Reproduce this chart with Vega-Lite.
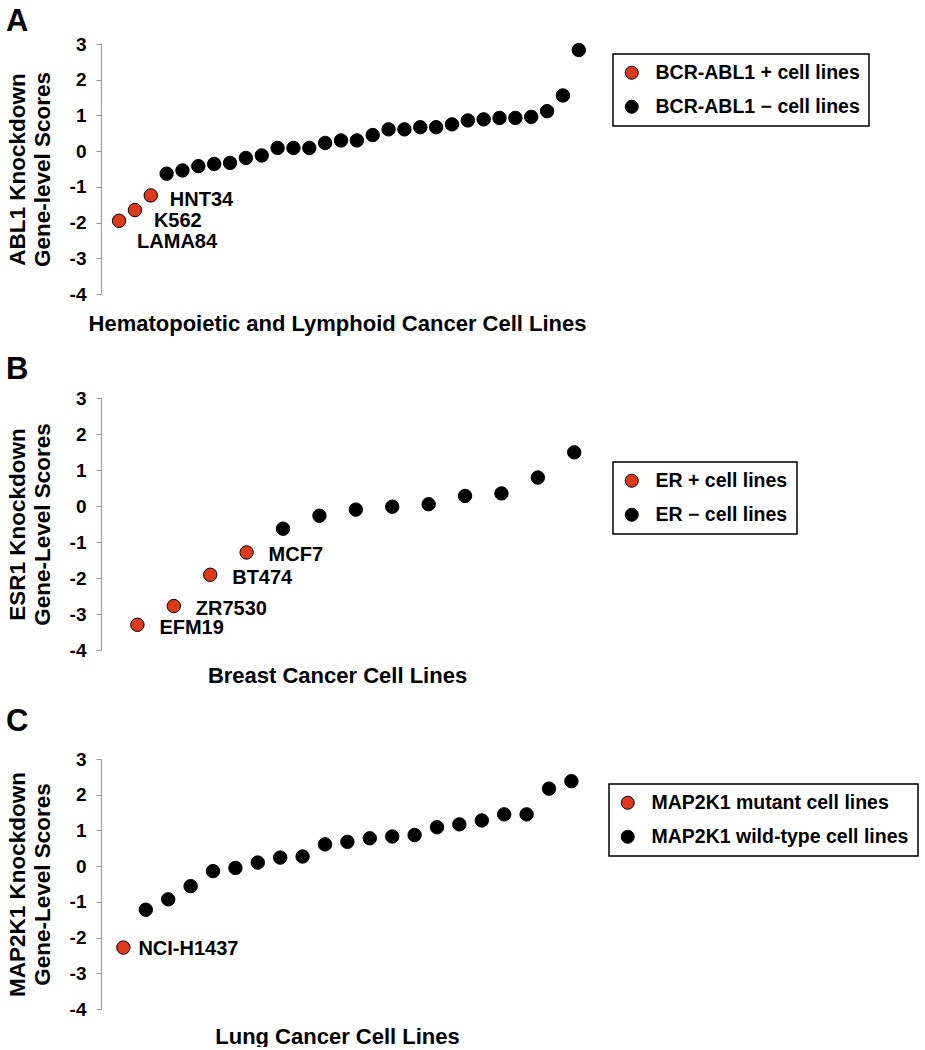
{
  "$schema": "https://vega.github.io/schema/vega-lite/v6.json",
  "background": "white",
  "padding": {"left": 6, "top": 6, "right": 0, "bottom": 0},
  "spacing": 20,
  "resolve": {"scale": {"color": "independent"}, "legend": {"color": "independent"}},
  "config": {
    "font": "Liberation Sans",
    "view": {"stroke": null},
    "axis": {"grid": false, "labelFont": "Liberation Sans", "labelFontWeight": "bold", "labelFontSize": 19, "labelColor": "black", "titleFont": "Liberation Sans", "titleFontWeight": "bold", "titleColor": "black"},
    "axisY": {"domainColor": "#999999", "tickColor": "#999999", "tickSize": 5, "labelPadding": 10, "titleFontSize": 22.5, "titleLineHeight": 25, "titlePadding": 15, "values": [-4, -3, -2, -1, 0, 1, 2, 3], "labelExpr": "'' + datum.value"},
    "axisX": {"domain": false, "ticks": false, "labels": false, "titleFontSize": 22, "titleX": 236},
    "legend": {"orient": "none", "title": null, "strokeColor": "black", "strokeWidth": 1.5, "fillColor": "white", "padding": 9, "labelFont": "Liberation Sans", "labelFontSize": 19.5, "labelFontWeight": "bold", "labelColor": "black", "labelLimit": 400, "symbolType": "circle", "symbolSize": 170, "symbolStrokeColor": "black", "symbolStrokeWidth": 1, "rowPadding": 13, "labelOffset": 14},
    "title": {"anchor": "start", "frame": "bounds", "fontSize": 31, "fontWeight": "bold", "font": "Liberation Sans", "color": "black", "dx": 0}
  },
  "datasets": {
    "abl1": [
      {"i": 1, "score": -1.95, "group": "BCR-ABL1 + cell lines", "label": "LAMA84"},
      {"i": 2, "score": -1.65, "group": "BCR-ABL1 + cell lines", "label": "K562"},
      {"i": 3, "score": -1.24, "group": "BCR-ABL1 + cell lines", "label": "HNT34"},
      {"i": 4, "score": -0.63, "group": "BCR-ABL1 − cell lines", "label": ""},
      {"i": 5, "score": -0.54, "group": "BCR-ABL1 − cell lines", "label": ""},
      {"i": 6, "score": -0.42, "group": "BCR-ABL1 − cell lines", "label": ""},
      {"i": 7, "score": -0.36, "group": "BCR-ABL1 − cell lines", "label": ""},
      {"i": 8, "score": -0.33, "group": "BCR-ABL1 − cell lines", "label": ""},
      {"i": 9, "score": -0.19, "group": "BCR-ABL1 − cell lines", "label": ""},
      {"i": 10, "score": -0.12, "group": "BCR-ABL1 − cell lines", "label": ""},
      {"i": 11, "score": 0.09, "group": "BCR-ABL1 − cell lines", "label": ""},
      {"i": 12, "score": 0.09, "group": "BCR-ABL1 − cell lines", "label": ""},
      {"i": 13, "score": 0.09, "group": "BCR-ABL1 − cell lines", "label": ""},
      {"i": 14, "score": 0.23, "group": "BCR-ABL1 − cell lines", "label": ""},
      {"i": 15, "score": 0.30, "group": "BCR-ABL1 − cell lines", "label": ""},
      {"i": 16, "score": 0.30, "group": "BCR-ABL1 − cell lines", "label": ""},
      {"i": 17, "score": 0.45, "group": "BCR-ABL1 − cell lines", "label": ""},
      {"i": 18, "score": 0.61, "group": "BCR-ABL1 − cell lines", "label": ""},
      {"i": 19, "score": 0.61, "group": "BCR-ABL1 − cell lines", "label": ""},
      {"i": 20, "score": 0.67, "group": "BCR-ABL1 − cell lines", "label": ""},
      {"i": 21, "score": 0.67, "group": "BCR-ABL1 − cell lines", "label": ""},
      {"i": 22, "score": 0.75, "group": "BCR-ABL1 − cell lines", "label": ""},
      {"i": 23, "score": 0.86, "group": "BCR-ABL1 − cell lines", "label": ""},
      {"i": 24, "score": 0.89, "group": "BCR-ABL1 − cell lines", "label": ""},
      {"i": 25, "score": 0.93, "group": "BCR-ABL1 − cell lines", "label": ""},
      {"i": 26, "score": 0.93, "group": "BCR-ABL1 − cell lines", "label": ""},
      {"i": 27, "score": 0.96, "group": "BCR-ABL1 − cell lines", "label": ""},
      {"i": 28, "score": 1.12, "group": "BCR-ABL1 − cell lines", "label": ""},
      {"i": 29, "score": 1.56, "group": "BCR-ABL1 − cell lines", "label": ""},
      {"i": 30, "score": 2.83, "group": "BCR-ABL1 − cell lines", "label": ""}
    ],
    "esr1": [
      {"i": 1, "score": -3.30, "group": "ER + cell lines", "label": "EFM19"},
      {"i": 2, "score": -2.78, "group": "ER + cell lines", "label": "ZR7530"},
      {"i": 3, "score": -1.91, "group": "ER + cell lines", "label": "BT474"},
      {"i": 4, "score": -1.29, "group": "ER + cell lines", "label": "MCF7"},
      {"i": 5, "score": -0.63, "group": "ER − cell lines", "label": ""},
      {"i": 6, "score": -0.27, "group": "ER − cell lines", "label": ""},
      {"i": 7, "score": -0.10, "group": "ER − cell lines", "label": ""},
      {"i": 8, "score": -0.02, "group": "ER − cell lines", "label": ""},
      {"i": 9, "score": 0.05, "group": "ER − cell lines", "label": ""},
      {"i": 10, "score": 0.28, "group": "ER − cell lines", "label": ""},
      {"i": 11, "score": 0.35, "group": "ER − cell lines", "label": ""},
      {"i": 12, "score": 0.79, "group": "ER − cell lines", "label": ""},
      {"i": 13, "score": 1.49, "group": "ER − cell lines", "label": ""}
    ],
    "map2k1": [
      {"i": 1, "score": -2.28, "group": "MAP2K1 mutant cell lines", "label": "NCI-H1437"},
      {"i": 2, "score": -1.22, "group": "MAP2K1 wild-type cell lines", "label": ""},
      {"i": 3, "score": -0.93, "group": "MAP2K1 wild-type cell lines", "label": ""},
      {"i": 4, "score": -0.56, "group": "MAP2K1 wild-type cell lines", "label": ""},
      {"i": 5, "score": -0.14, "group": "MAP2K1 wild-type cell lines", "label": ""},
      {"i": 6, "score": -0.05, "group": "MAP2K1 wild-type cell lines", "label": ""},
      {"i": 7, "score": 0.10, "group": "MAP2K1 wild-type cell lines", "label": ""},
      {"i": 8, "score": 0.24, "group": "MAP2K1 wild-type cell lines", "label": ""},
      {"i": 9, "score": 0.27, "group": "MAP2K1 wild-type cell lines", "label": ""},
      {"i": 10, "score": 0.61, "group": "MAP2K1 wild-type cell lines", "label": ""},
      {"i": 11, "score": 0.68, "group": "MAP2K1 wild-type cell lines", "label": ""},
      {"i": 12, "score": 0.78, "group": "MAP2K1 wild-type cell lines", "label": ""},
      {"i": 13, "score": 0.83, "group": "MAP2K1 wild-type cell lines", "label": ""},
      {"i": 14, "score": 0.87, "group": "MAP2K1 wild-type cell lines", "label": ""},
      {"i": 15, "score": 1.09, "group": "MAP2K1 wild-type cell lines", "label": ""},
      {"i": 16, "score": 1.17, "group": "MAP2K1 wild-type cell lines", "label": ""},
      {"i": 17, "score": 1.28, "group": "MAP2K1 wild-type cell lines", "label": ""},
      {"i": 18, "score": 1.45, "group": "MAP2K1 wild-type cell lines", "label": ""},
      {"i": 19, "score": 1.45, "group": "MAP2K1 wild-type cell lines", "label": ""},
      {"i": 20, "score": 2.17, "group": "MAP2K1 wild-type cell lines", "label": ""},
      {"i": 21, "score": 2.38, "group": "MAP2K1 wild-type cell lines", "label": ""}
    ]
  },
  "vconcat": [
    {
      "title": {"text": "A", "offset": -3},
      "width": 490,
      "height": 250,
      "data": {"name": "abl1"},
      "encoding": {
        "x": {"field": "i", "type": "quantitative", "scale": {"domain": [-0.14, 30.77], "nice": false, "zero": false}, "axis": {"title": "Hematopoietic and Lymphoid Cancer Cell Lines", "titlePadding": 19}},
        "y": {"field": "score", "type": "quantitative", "scale": {"domain": [-4, 3], "nice": false}, "axis": {"title": ["ABL1 Knockdown", "Gene-level Scores"]}}
      },
      "layer": [
        {
          "mark": {"type": "point", "filled": true, "size": 180, "stroke": "black", "strokeWidth": 1, "opacity": 1},
          "encoding": {"color": {"field": "group", "type": "nominal", "scale": {"domain": ["BCR-ABL1 + cell lines", "BCR-ABL1 − cell lines"], "range": ["#dd3a1c", "#000000"]}, "legend": {"legendX": 512, "legendY": 10}}}
        },
        {
          "transform": [{"filter": "datum.label == 'HNT34'"}],
          "mark": {"type": "text", "align": "left", "baseline": "middle", "dx": 19, "dy": 5, "fontSize": 20, "fontWeight": "bold", "color": "black"},
          "encoding": {"text": {"field": "label"}}
        },
        {
          "transform": [{"filter": "datum.label == 'K562'"}],
          "mark": {"type": "text", "align": "left", "baseline": "middle", "dx": 19, "dy": 11, "fontSize": 20, "fontWeight": "bold", "color": "black"},
          "encoding": {"text": {"field": "label"}}
        },
        {
          "transform": [{"filter": "datum.label == 'LAMA84'"}],
          "mark": {"type": "text", "align": "left", "baseline": "middle", "dx": 18, "dy": 21, "fontSize": 20, "fontWeight": "bold", "color": "black"},
          "encoding": {"text": {"field": "label"}}
        }
      ]
    },
    {
      "title": {"text": "B", "offset": 3},
      "width": 490,
      "height": 252,
      "data": {"name": "esr1"},
      "encoding": {
        "x": {"field": "i", "type": "quantitative", "scale": {"domain": [0, 13.46], "nice": false, "zero": false}, "axis": {"title": "Breast Cancer Cell Lines", "titlePadding": 15}},
        "y": {"field": "score", "type": "quantitative", "scale": {"domain": [-4, 3], "nice": false}, "axis": {"title": ["ESR1 Knockdown", "Gene-Level Scores"]}}
      },
      "layer": [
        {
          "mark": {"type": "point", "filled": true, "size": 180, "stroke": "black", "strokeWidth": 1, "opacity": 1},
          "encoding": {"color": {"field": "group", "type": "nominal", "scale": {"domain": ["ER + cell lines", "ER − cell lines"], "range": ["#dd3a1c", "#000000"]}, "legend": {"legendX": 512, "legendY": 64}}}
        },
        {
          "transform": [{"filter": "datum.label != ''"}],
          "mark": {"type": "text", "align": "left", "baseline": "middle", "dx": 22, "dy": 3, "fontSize": 20, "fontWeight": "bold", "color": "black"},
          "encoding": {"text": {"field": "label"}}
        }
      ]
    },
    {
      "title": {"text": "C", "offset": 12},
      "width": 490,
      "height": 250,
      "data": {"name": "map2k1"},
      "encoding": {
        "x": {"field": "i", "type": "quantitative", "scale": {"domain": [0, 21.875], "nice": false, "zero": false}, "axis": {"title": "Lung Cancer Cell Lines", "titlePadding": 17}},
        "y": {"field": "score", "type": "quantitative", "scale": {"domain": [-4, 3], "nice": false}, "axis": {"title": ["MAP2K1 Knockdown", "Gene-Level Scores"]}}
      },
      "layer": [
        {
          "mark": {"type": "point", "filled": true, "size": 180, "stroke": "black", "strokeWidth": 1, "opacity": 1},
          "encoding": {"color": {"field": "group", "type": "nominal", "scale": {"domain": ["MAP2K1 mutant cell lines", "MAP2K1 wild-type cell lines"], "range": ["#dd3a1c", "#000000"]}, "legend": {"legendX": 508, "legendY": 25}}}
        },
        {
          "transform": [{"filter": "datum.label != ''"}],
          "mark": {"type": "text", "align": "left", "baseline": "middle", "dx": 15, "dy": 1, "fontSize": 20, "fontWeight": "bold", "color": "black"},
          "encoding": {"text": {"field": "label"}}
        }
      ]
    }
  ]
}
